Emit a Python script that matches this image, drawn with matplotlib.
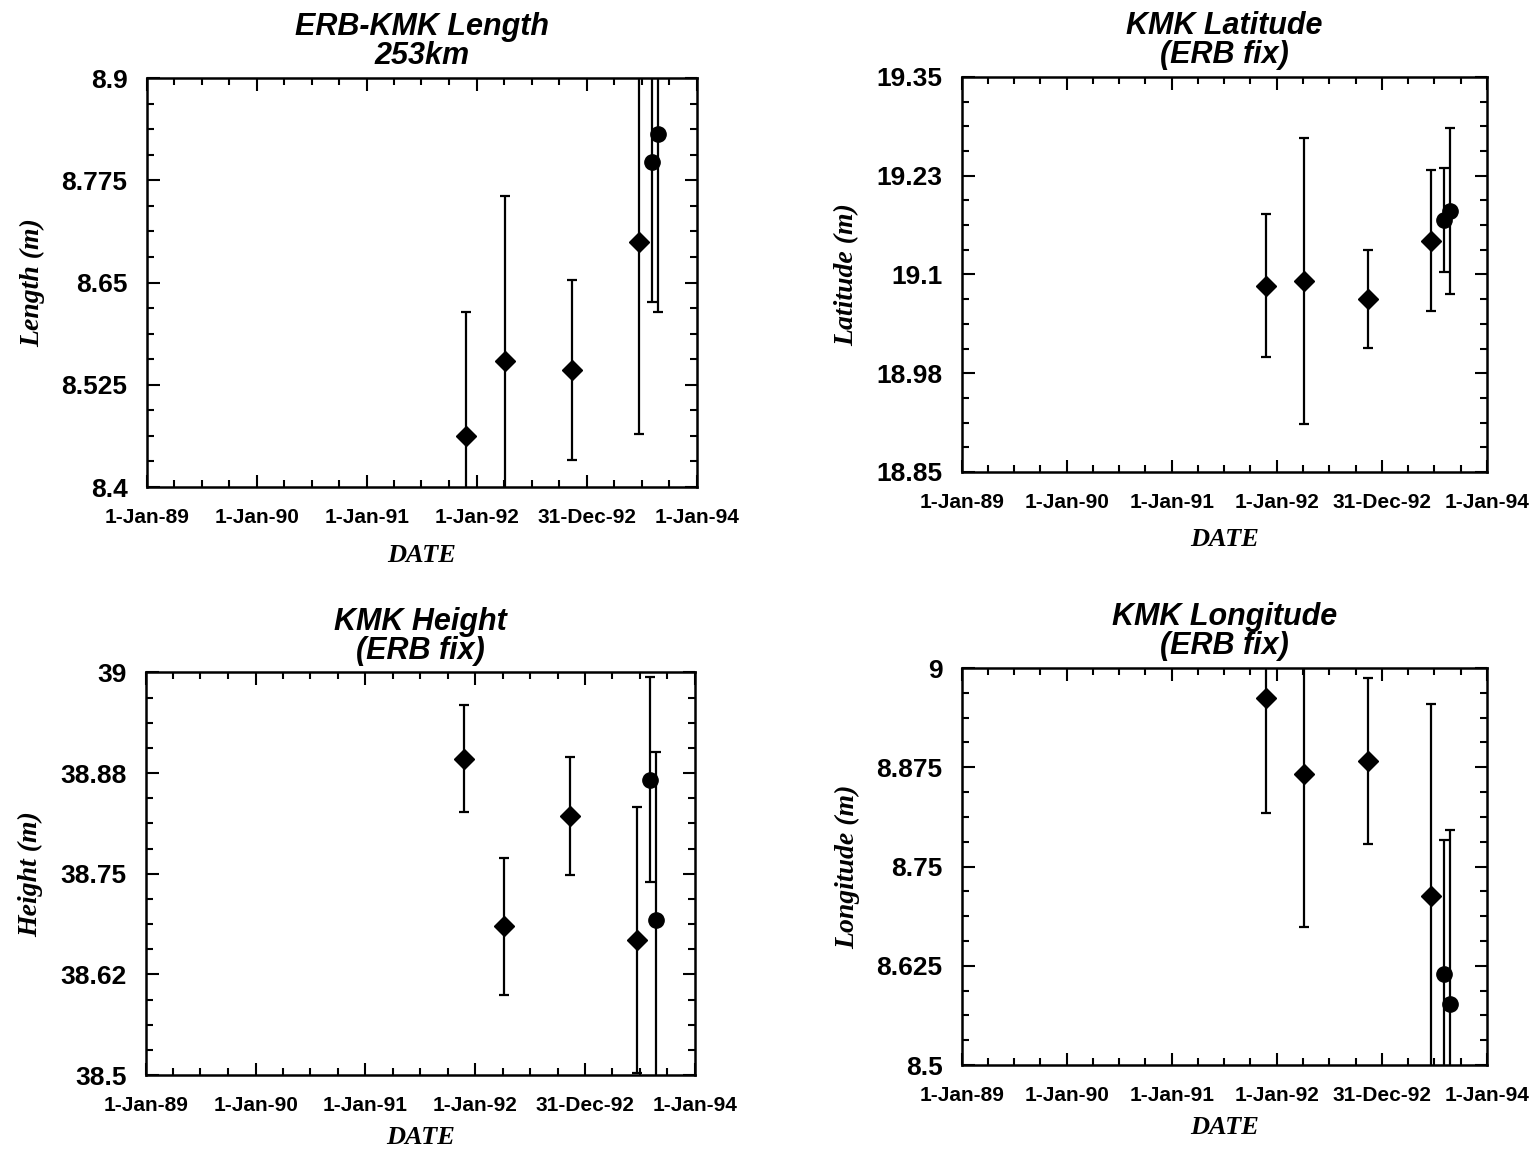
import matplotlib
matplotlib.use('Agg')
import matplotlib.pyplot as plt
import matplotlib.dates as mdates
import pandas as pd
from matplotlib.ticker import AutoMinorLocator, FixedLocator, FixedFormatter

plt.rcParams['font.family'] = 'Liberation Sans'

# observation epochs (same six campaigns in every panel)
obs_dates = pd.to_datetime(['1991-11-26', '1992-04-05', '1992-11-12',
                            '1993-06-22', '1993-08-03', '1993-08-25'])
marker_kind = ['D', 'D', 'D', 'D', 'o', 'o']

length_vals = [8.462, 8.554, 8.543, 8.700, 8.797, 8.831]
length_errs = [0.152, 0.202, 0.110, 0.235, 0.171, 0.217]

lat_vals = [19.086, 19.092, 19.069, 19.143, 19.169, 19.180]
lat_errs = [0.090, 0.181, 0.062, 0.089, 0.066, 0.105]

height_vals = [38.893, 38.685, 38.822, 38.668, 38.867, 38.692]
height_errs = [0.066, 0.085, 0.073, 0.165, 0.127, 0.209]

lon_vals = [8.9625, 8.866, 8.883, 8.713, 8.615, 8.577]
lon_errs = [0.145, 0.192, 0.105, 0.242, 0.169, 0.219]

x_tick_dates = pd.to_datetime(['1989-01-01', '1990-01-01', '1991-01-01',
                               '1992-01-01', '1992-12-31', '1994-01-01'])
x_tick_labels = ['1-Jan-89', '1-Jan-90', '1-Jan-91', '1-Jan-92', '31-Dec-92', '1-Jan-94']

length_ticks = [8.4, 8.525, 8.65, 8.775, 8.9]
length_labels = ['8.4', '8.525', '8.65', '8.775', '8.9']
lat_ticks = [18.85, 18.975, 19.1, 19.225, 19.35]
lat_labels = ['18.85', '18.98', '19.1', '19.23', '19.35']
height_ticks = [38.5, 38.625, 38.75, 38.875, 39.0]
height_labels = ['38.5', '38.62', '38.75', '38.88', '39']
lon_ticks = [8.5, 8.625, 8.75, 8.875, 9.0]
lon_labels = ['8.5', '8.625', '8.75', '8.875', '9']

panels = [
    # rect, title, ylabel, vals, errs, yticks, ylabels
    ([0.0958, 0.5787, 0.3583, 0.3538], 'ERB-KMK Length\n253km', 'Length (m)',
     length_vals, length_errs, length_ticks, length_labels),
    ([0.6267, 0.5917, 0.3420, 0.3417], 'KMK Latitude\n(ERB fix)', 'Latitude (m)',
     lat_vals, lat_errs, lat_ticks, lat_labels),
    ([0.0951, 0.0700, 0.3577, 0.3483], 'KMK Height\n(ERB fix)', 'Height (m)',
     height_vals, height_errs, height_ticks, height_labels),
    ([0.6267, 0.0787, 0.3420, 0.3434], 'KMK Longitude\n(ERB fix)', 'Longitude (m)',
     lon_vals, lon_errs, lon_ticks, lon_labels),
]

serif = dict(family='Liberation Serif', style='italic', weight='bold')

fig = plt.figure(figsize=(15.35, 11.56), dpi=100)

for i, (rect, title, ylabel, vals, errs, yticks, ylabels) in enumerate(panels):
    ax = fig.add_axes(rect)

    # error bars then markers
    ax.errorbar(obs_dates, vals, yerr=errs, fmt='none', ecolor='black',
                elinewidth=1.6, capsize=3.5, capthick=1.6, zorder=2)
    for d, v, m in zip(obs_dates, vals, marker_kind):
        ax.plot([d], [v], linestyle='None', marker=m, color='black',
                markersize=10 if m == 'D' else 11, zorder=3)

    ax.set_xlim(x_tick_dates[0], x_tick_dates[-1])
    ax.set_ylim(yticks[0], yticks[-1])

    ax.xaxis.set_major_locator(FixedLocator(mdates.date2num(x_tick_dates)))
    ax.xaxis.set_major_formatter(FixedFormatter(x_tick_labels))
    ax.xaxis.set_minor_locator(mdates.MonthLocator(bymonth=[4, 7, 10]))
    ax.yaxis.set_major_locator(FixedLocator(yticks))
    ax.yaxis.set_major_formatter(FixedFormatter(ylabels))
    ax.yaxis.set_minor_locator(AutoMinorLocator(4))

    ax.tick_params(axis='both', which='both', direction='in', top=True, right=True,
                   width=1.5, color='black')
    ax.tick_params(axis='both', which='major', length=9)
    ax.tick_params(axis='both', which='minor', length=5)
    ax.tick_params(axis='x', which='major', labelsize=15, pad=15)
    ax.tick_params(axis='y', which='major', labelsize=19, pad=14)
    for lab in ax.get_yticklabels() + ax.get_xticklabels():
        lab.set_fontweight('bold')
    for sp in ax.spines.values():
        sp.set_linewidth(1.8)

    ax.set_xlabel('DATE', fontsize=19, labelpad=12 if i < 2 else 8, **serif)
    ax.set_ylabel(ylabel, fontsize=20, labelpad=12, **serif)
    ax.set_title(title, fontsize=22, fontweight='bold', style='italic',
                 linespacing=0.95, pad=10)

fig.savefig('out.png', dpi=100)
